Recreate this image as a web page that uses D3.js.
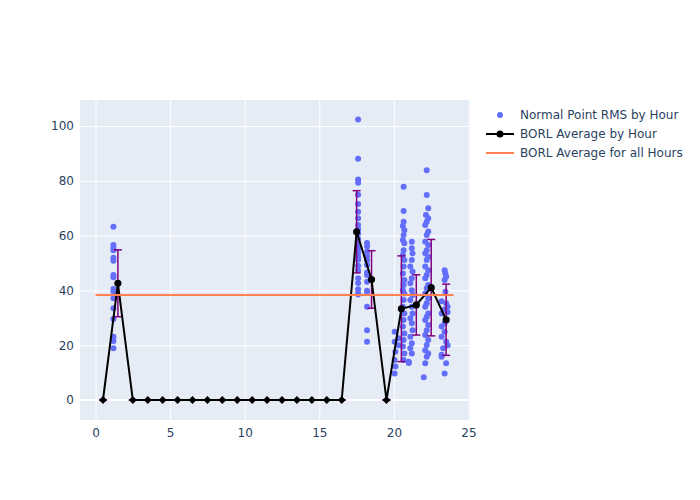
<!DOCTYPE html>
<html><head><meta charset="utf-8">
<script src="https://cdn.jsdelivr.net/npm/d3@7"></script>
<style>body{margin:0;background:#fff}svg{font-family:"DejaVu Sans",sans-serif}</style>
</head><body>
<svg id="c" width="700" height="500"></svg>
<script>
// Normal point RMS scatter (hour of day, RMS)
const rmsHour = [
 1.2,1.2,1.2,1.2,1.2,1.2,1.2,1.2,1.2,1.2,1.2,1.2,1.2,1.2,1.2,1.2,
 17.6,17.6,17.6,17.6,17.6,17.6,17.6,17.6,17.6,17.6,17.6,17.6,17.6,17.6,17.6,17.6,17.6,17.6,17.6,17.6,17.6,17.6,17.6,17.6,
 18.2,18.2,18.2,18.2,18.2,18.2,18.2,18.2,18.2,18.2,18.2,18.2,18.2,18.2,
 20.05,20.05,20.1,20.05,20.1,20.05,20.3,20.3,
 20.65,20.65,20.65,20.6,20.7,20.65,20.6,20.7,20.65,20.6,20.7,20.65,20.6,20.7,20.65,20.6,20.7,20.65,20.6,20.7,20.65,20.6,20.7,20.65,20.6,20.7,20.65,
 21.2,21.2,21.25,21.2,21.1,21.25,21.2,21.1,21.2,21.25,21.1,21.2,21.25,21.1,21.2,21.25,21.1,21.2,21.1,21.2,21.0,21.0,
 22.2,22.2,22.3,22.15,22.3,22.2,22.1,22.3,22.2,22.1,22.3,22.2,22.1,22.3,22.2,22.1,22.3,22.2,22.1,22.3,22.2,22.1,22.3,22.2,22.1,22.3,22.2,22.1,22.3,22.2,22.1,22.3,22.2,22.1,22.3,22.2,22.1,22.0,
 23.4,23.45,23.5,23.4,23.45,23.2,23.5,23.6,23.4,23.2,23.5,23.4,23.2,23.6,23.4,23.2,23.5,23.3,23.2,23.6,23.2,23.5,23.4
];
const rmsValue = [
 63.2,56.6,55.6,54.7,51.9,50.8,45.6,44.8,40.5,39.5,37.1,33.5,29.6,23.1,21.5,18.9,
 102.4,88.1,80.5,79.3,74.9,71.5,68.7,66.3,63.9,62.3,60.8,58.8,56.9,55.3,53.8,52.4,51.2,49.0,47.3,44.4,42.7,40.4,39.0,38.5,
 57.3,56.0,54.1,52.5,51.0,49.3,46.5,45.6,43.2,39.9,39.5,34.0,25.5,21.3,
 24.9,21.3,17.6,14.6,12.2,9.7,20.0,22.5,
 77.8,69.0,65.1,63.5,62.0,60.2,58.4,57.2,54.7,52.9,51.1,48.7,46.2,43.8,42.0,40.1,38.9,36.5,34.0,31.6,29.2,26.8,24.3,21.9,19.5,17.0,14.6,
 57.8,55.4,53.5,51.1,48.7,46.9,44.4,42.6,40.1,38.3,36.5,34.0,31.6,29.8,28.0,25.5,23.1,20.7,18.9,17.0,14.0,13.5,
 83.9,74.8,70.0,67.5,66.3,65.1,63.9,61.5,60.2,57.8,56.6,54.7,53.5,52.3,51.1,48.7,47.4,45.6,44.4,42.0,40.8,38.9,37.1,35.3,34.0,31.6,30.4,29.2,27.4,25.5,23.7,21.9,20.1,18.2,17.0,15.8,13.4,8.3,
 47.4,46.2,45.0,43.8,39.5,36.0,35.3,34.0,33.0,31.6,29.2,28.0,26.8,32.0,24.9,23.1,21.3,18.9,16.5,20.0,15.8,13.4,9.7
];
// BORL average per hour
const avgHour = [0.5,1.5,2.5,3.5,4.5,5.5,6.5,7.5,8.5,9.5,10.5,11.5,12.5,13.5,14.5,15.5,16.5,17.5,18.5,19.5,20.5,21.5,22.5,23.5];
const avgValue = [0,42.6,0,0,0,0,0,0,0,0,0,0,0,0,0,0,0,61.4,44.0,0,33.3,34.7,41.0,29.3];
const avgErr   = [0,12.2,0,0,0,0,0,0,0,0,0,0,0,0,0,0,0,15.0,10.5,0,19.3,11.0,17.6,13.0];
// Overall average
const overallX = [0,24];
const overallValue = 38.3;
const xTicks = [0,5,10,15,20,25];
const yTicks = [0,20,40,60,80,100];
const legendLabels = ["Normal Point RMS by Hour","BORL Average by Hour","BORL Average for all Hours"];

const svg = d3.select("#c");
const L=80,R=470,T=100,B=420;
const x = d3.scaleLinear().domain([-1.04,25.1]).range([L,R]);
const y = d3.scaleLinear().domain([-7.3,109.5]).range([B,T]);
const txt="#2a3f5f";
const font="'DejaVu Sans',sans-serif";

svg.append("rect").attr("x",L).attr("y",T).attr("width",R-L).attr("height",B-T).attr("fill","#e5ecf6");
const gx = svg.append("g").attr("transform",`translate(0,${B})`)
  .call(d3.axisBottom(x).tickValues(xTicks).tickSize(-(B-T)).tickPadding(6));
const gy = svg.append("g").attr("transform",`translate(${L},0)`)
  .call(d3.axisLeft(y).tickValues(yTicks).tickSize(-(R-L)).tickPadding(6));
[gx,gy].forEach(g=>{
  g.select(".domain").remove();
  g.selectAll(".tick line").attr("stroke","#fff").attr("stroke-width",1);
  g.selectAll(".tick text").attr("fill",txt).attr("font-size",12).attr("font-family",font);
});
gx.selectAll(".tick text").attr("dy","0.9em");
svg.append("line").attr("x1",L).attr("x2",R).attr("y1",y(0)).attr("y2",y(0)).attr("stroke","#fff").attr("stroke-width",2);

// scatter
svg.append("g").selectAll("circle").data(rmsHour.map((h,i)=>[h,rmsValue[i]])).join("circle")
  .attr("cx",d=>x(d[0])).attr("cy",d=>y(d[1])).attr("r",3).attr("fill","#636efa");

// error bars
const eb = svg.append("g").attr("stroke","#800080").attr("stroke-width",1.5).attr("fill","none");
avgHour.forEach((h,i)=>{
  const cx=x(h), lo=y(avgValue[i]-avgErr[i]), hi=y(avgValue[i]+avgErr[i]);
  eb.append("line").attr("x1",cx).attr("x2",cx).attr("y1",lo).attr("y2",hi);
  eb.append("line").attr("x1",cx-4).attr("x2",cx+4).attr("y1",lo).attr("y2",lo);
  eb.append("line").attr("x1",cx-4).attr("x2",cx+4).attr("y1",hi).attr("y2",hi);
});
// average line
svg.append("path").datum(avgHour.map((h,i)=>[h,avgValue[i]]))
  .attr("d",d3.line().x(d=>x(d[0])).y(d=>y(d[1])))
  .attr("fill","none").attr("stroke","#000").attr("stroke-width",2);
svg.append("g").selectAll("path").data(avgHour.map((h,i)=>[h,avgValue[i]])).join("path")
  .attr("transform",d=>`translate(${x(d[0])},${y(d[1])})`)
  .attr("d",d=>d[1]===0?"M0,-4L4,0L0,4L-4,0Z":d3.symbol(d3.symbolCircle,40)())
  .attr("fill","#000");
// overall line
svg.append("line").attr("x1",x(overallX[0])).attr("x2",x(overallX[1]))
  .attr("y1",y(overallValue)).attr("y2",y(overallValue)).attr("stroke","coral").attr("stroke-width",2);

// legend
const lg = svg.append("g").attr("font-size",12).attr("fill",txt).attr("font-family",font);
const ly=[115,134,153];
lg.append("circle").attr("cx",500).attr("cy",ly[0]).attr("r",3).attr("fill","#636efa");
lg.append("line").attr("x1",486).attr("x2",514).attr("y1",ly[1]).attr("y2",ly[1]).attr("stroke","#000").attr("stroke-width",2);
lg.append("circle").attr("cx",500).attr("cy",ly[1]).attr("r",3.5).attr("fill","#000");
lg.append("line").attr("x1",486).attr("x2",514).attr("y1",ly[2]).attr("y2",ly[2]).attr("stroke","coral").attr("stroke-width",2);
legendLabels.forEach((t,i)=>lg.append("text").attr("x",520).attr("y",ly[i]).attr("dy","0.35em").text(t));
</script>
</body></html>
